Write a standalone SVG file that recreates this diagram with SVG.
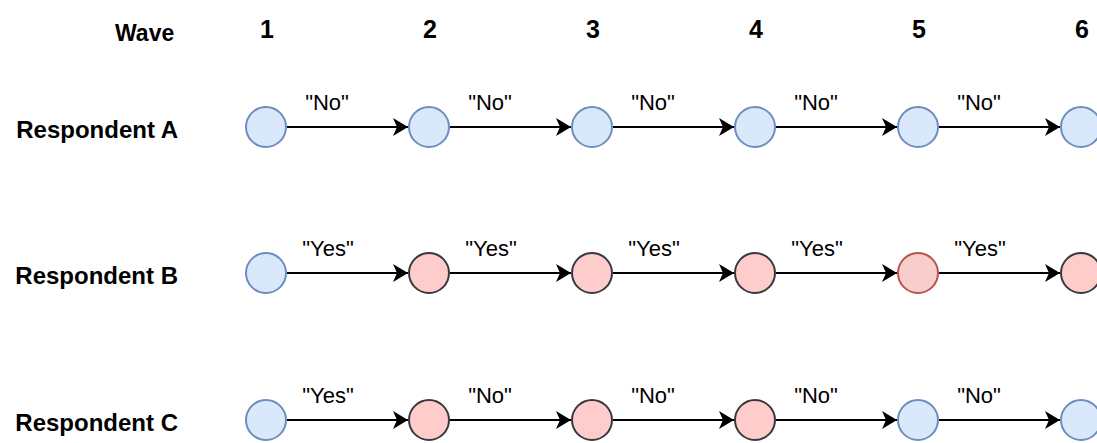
<svg xmlns="http://www.w3.org/2000/svg" width="1097" height="443" viewBox="0 0 1097 443">
<style>
.hdr{font-family:"Liberation Sans",Arial,sans-serif;font-weight:bold;fill:#000}
.wave{font-size:23px}
.num{font-size:25px;text-anchor:middle}
.resp{font-size:24px;text-anchor:end}
.lbl{font-family:"Liberation Sans",Arial,sans-serif;font-size:22px;fill:#000;text-anchor:middle}
.blue{fill:#dae8fc;stroke:#6c8ebf;stroke-width:2}
.red{fill:#ffcccc;stroke:#36393d;stroke-width:2}
.red2{fill:#f8cecc;stroke:#b85450;stroke-width:2}
.edge{stroke:#000;stroke-width:2;fill:none;marker-end:url(#arr)}
</style>
<defs>
<marker id="arr" markerWidth="16" markerHeight="18" refX="15" refY="9" orient="auto" markerUnits="userSpaceOnUse">
<path d="M0,0 L15,9 L0,18 L4,9 Z" fill="#000"/>
</marker>
</defs>
<rect width="1097" height="443" fill="#fff"/>
<g id="header">
<text class="hdr wave" x="115" y="41">Wave</text>
<text class="hdr num" x="267" y="38">1</text>
<text class="hdr num" x="430" y="38">2</text>
<text class="hdr num" x="593" y="38">3</text>
<text class="hdr num" x="756" y="38">4</text>
<text class="hdr num" x="919" y="38">5</text>
<text class="hdr num" x="1082" y="38">6</text>
</g>
<g id="row-labels">
<text class="hdr resp" x="178" y="138">Respondent A</text>
<text class="hdr resp" x="178" y="284">Respondent B</text>
<text class="hdr resp" x="178" y="431">Respondent C</text>
</g>
<g id="connectors">
<path class="edge" d="M287,127 H408"/>
<path class="edge" d="M450,127 H571"/>
<path class="edge" d="M613,127 H734"/>
<path class="edge" d="M776,127 H897"/>
<path class="edge" d="M939,127 H1060"/>
<path class="edge" d="M287,273 H408"/>
<path class="edge" d="M450,273 H571"/>
<path class="edge" d="M613,273 H734"/>
<path class="edge" d="M776,273 H897"/>
<path class="edge" d="M939,273 H1060"/>
<path class="edge" d="M287,420 H408"/>
<path class="edge" d="M450,420 H571"/>
<path class="edge" d="M613,420 H734"/>
<path class="edge" d="M776,420 H897"/>
<path class="edge" d="M939,420 H1060"/>
<text class="lbl" x="327" y="110">"No"</text>
<text class="lbl" x="490" y="110">"No"</text>
<text class="lbl" x="653" y="110">"No"</text>
<text class="lbl" x="816" y="110">"No"</text>
<text class="lbl" x="979" y="110">"No"</text>
<text class="lbl" x="328" y="256">"Yes"</text>
<text class="lbl" x="491" y="256">"Yes"</text>
<text class="lbl" x="654" y="256">"Yes"</text>
<text class="lbl" x="817" y="256">"Yes"</text>
<text class="lbl" x="980" y="256">"Yes"</text>
<text class="lbl" x="328" y="403">"Yes"</text>
<text class="lbl" x="490" y="403">"No"</text>
<text class="lbl" x="653" y="403">"No"</text>
<text class="lbl" x="816" y="403">"No"</text>
<text class="lbl" x="979" y="403">"No"</text>
</g>
<g id="A1"><circle class="blue" cx="266" cy="127" r="20"/></g>
<g id="A2"><circle class="blue" cx="429" cy="127" r="20"/></g>
<g id="A3"><circle class="blue" cx="592" cy="127" r="20"/></g>
<g id="A4"><circle class="blue" cx="755" cy="127" r="20"/></g>
<g id="A5"><circle class="blue" cx="918" cy="127" r="20"/></g>
<g id="A6"><circle class="blue" cx="1081" cy="127" r="20"/></g>
<g id="B1"><circle class="blue" cx="266" cy="273" r="20"/></g>
<g id="B2"><circle class="red" cx="429" cy="273" r="20"/></g>
<g id="B3"><circle class="red" cx="592" cy="273" r="20"/></g>
<g id="B4"><circle class="red" cx="755" cy="273" r="20"/></g>
<g id="B5"><circle class="red2" cx="918" cy="273" r="20"/></g>
<g id="B6"><circle class="red" cx="1081" cy="273" r="20"/></g>
<g id="C1"><circle class="blue" cx="266" cy="420" r="20"/></g>
<g id="C2"><circle class="red" cx="429" cy="420" r="20"/></g>
<g id="C3"><circle class="red" cx="592" cy="420" r="20"/></g>
<g id="C4"><circle class="red" cx="755" cy="420" r="20"/></g>
<g id="C5"><circle class="blue" cx="918" cy="420" r="20"/></g>
<g id="C6"><circle class="blue" cx="1081" cy="420" r="20"/></g>
</svg>
